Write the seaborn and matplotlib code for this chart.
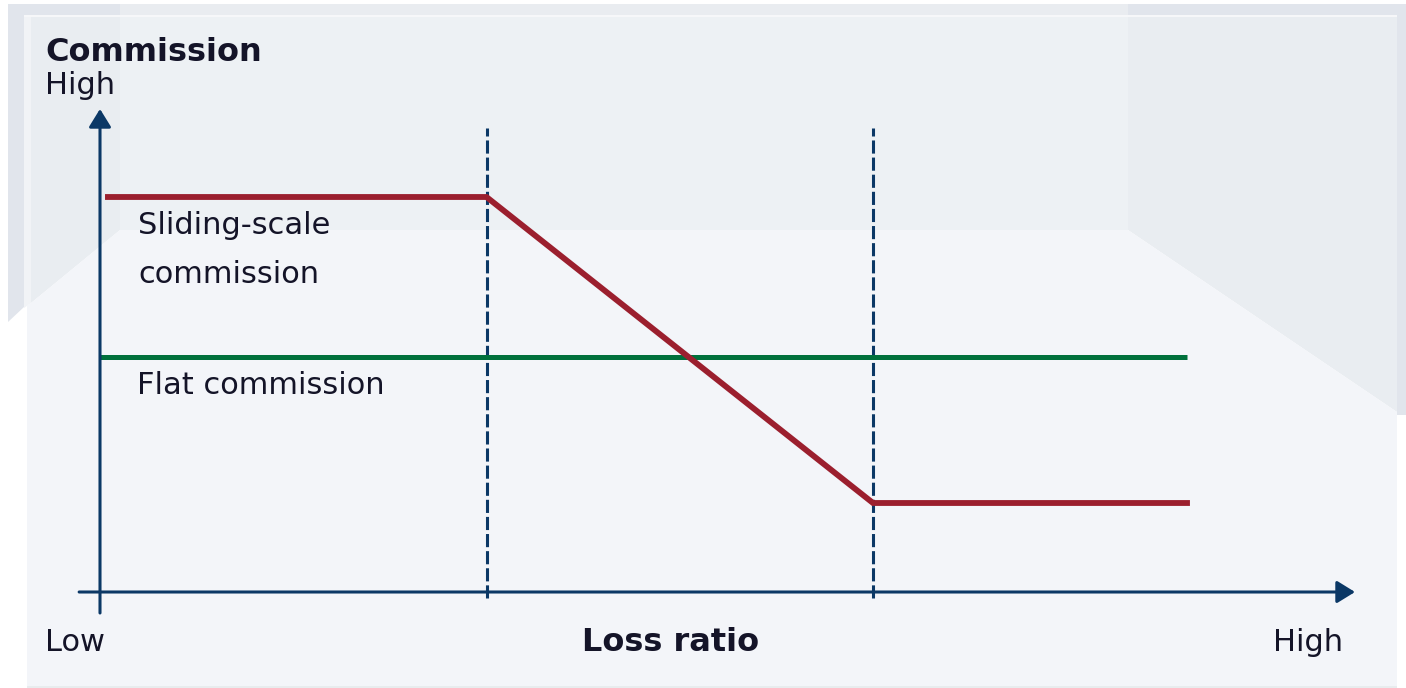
import matplotlib
matplotlib.use("Agg")
import matplotlib.pyplot as plt
import seaborn as sns
import pandas as pd
from matplotlib.patches import Polygon

# ---------------- data ----------------
sliding_loss_ratio = [0.013, 1.0, 2.0, 2.82]
sliding_commission = [3.95, 3.95, 0.89, 0.89]
flat_loss_ratio = [0.0, 2.812]
flat_commission = [2.35, 2.35]
thresholds = [1.0, 2.0]

y_title = "Commission"
y_high = "High"
x_title = "Loss ratio"
x_low = "Low"
x_high = "High"
label_sliding = ["Sliding-scale", "commission"]
label_flat = "Flat commission"

# ---------------- style ----------------
sns.set_theme(style="white")
plt.rcParams["font.family"] = ["DejaVu Sans"]

RED = "#9b1f2e"
GREEN = "#00703c"
NAVY = "#0b3866"
TXT = "#141428"

W, H = 1406, 688
fig = plt.figure(figsize=(W / 100, H / 100), dpi=100)
fig.patch.set_facecolor("white")

# background "room" decoration (pixel space)
bg = fig.add_axes([0, 0, 1, 1])
bg.set_xlim(0, W)
bg.set_ylim(H, 0)
bg.axis("off")
shapes = [
    ([(8, 4), (1406, 4), (1406, 17), (8, 17)], "#e1e5ec"),
    ([(120, 4), (1128, 4), (1128, 15), (120, 15)], "#e9ecf0"),
    ([(8, 4), (24, 4), (24, 307), (8, 322)], "#e1e5ec"),
    ([(1397, 4), (1406, 4), (1406, 415), (1397, 415)], "#e1e5ec"),
    ([(24, 15), (1397, 15), (1397, 17), (24, 17)], "#f6f7f9"),
    ([(24, 17), (31, 17), (31, 303), (24, 308)], "#f1f3f6"),
    ([(31, 17), (120, 17), (120, 230), (31, 303)], "#e9edf1"),
    ([(120, 17), (1128, 17), (1128, 230), (120, 230)], "#edf1f4"),
    ([(1128, 17), (1397, 17), (1397, 412), (1128, 230)], "#e9edf1"),
    ([(120, 230), (1128, 230), (1397, 412), (1397, 686), (27, 686), (27, 305), (31, 303)], "#f3f5f9"),
    ([(27, 686), (1397, 686), (1397, 688), (27, 688)], "#e8ecee"),
]
for pts, c in shapes:
    bg.add_patch(Polygon(pts, closed=True, facecolor=c, edgecolor="none"))

# main chart axes
ax = fig.add_axes([0, 0, 1, 1])
ax.patch.set_alpha(0)
unit = 386.5
ax.set_xlim(-100 / unit, (W - 100) / unit)
ax.set_ylim(-(H - 592) / 100, 592 / 100)
ax.axis("off")

df_sliding = pd.DataFrame({"loss_ratio": sliding_loss_ratio, "commission": sliding_commission})
df_flat = pd.DataFrame({"loss_ratio": flat_loss_ratio, "commission": flat_commission})

# threshold dashed lines
ax.vlines(thresholds, -0.06, 4.64, colors=NAVY, lw=2.2,
          linestyles=[(0, (4.3, 1.3))], zorder=2)

sns.lineplot(data=df_flat, x="loss_ratio", y="commission", ax=ax, color=GREEN,
             lw=3.6, estimator=None, sort=False, zorder=3)
sns.lineplot(data=df_sliding, x="loss_ratio", y="commission", ax=ax, color=RED,
             lw=4.2, estimator=None, sort=False, zorder=4)
for ln in ax.lines:
    ln.set_solid_capstyle("butt")
    ln.set_solid_joinstyle("miter")

# axes with arrows
arrow = dict(arrowstyle="-|>,head_length=0.55,head_width=0.34", lw=2.2,
             color=NAVY, shrinkA=0, shrinkB=0, mutation_scale=20)
ax.annotate("", xy=(0, 4.83), xytext=(0, -0.21), arrowprops=arrow, zorder=5)
ax.annotate("", xy=(1355 / unit - 100 / unit, 0), xytext=(-0.054, 0), arrowprops=arrow, zorder=5)

# texts
fs = 22
fb = 23
ax.text(-0.142, 5.31, y_title, fontsize=fb, fontweight="bold", color=TXT, va="baseline", ha="left")
ax.text(-0.142, 4.98, y_high, fontsize=fs, color=TXT, va="baseline", ha="left")
ax.text(0.098, 3.58, label_sliding[0], fontsize=fs, color=TXT, va="baseline", ha="left")
ax.text(0.098, 3.09, label_sliding[1], fontsize=fs, color=TXT, va="baseline", ha="left")
ax.text(0.096, 1.98, label_flat, fontsize=fs, color=TXT, va="baseline", ha="left")
ax.text(-0.142, -0.59, x_low, fontsize=fs, color=TXT, va="baseline", ha="left")
ax.text(1.477, -0.59, x_title, fontsize=fb, fontweight="bold", color=TXT, va="baseline", ha="center")
ax.text(3.216, -0.59, x_high, fontsize=fs, color=TXT, va="baseline", ha="right")

fig.savefig("out.png", dpi=100, facecolor=fig.get_facecolor())
